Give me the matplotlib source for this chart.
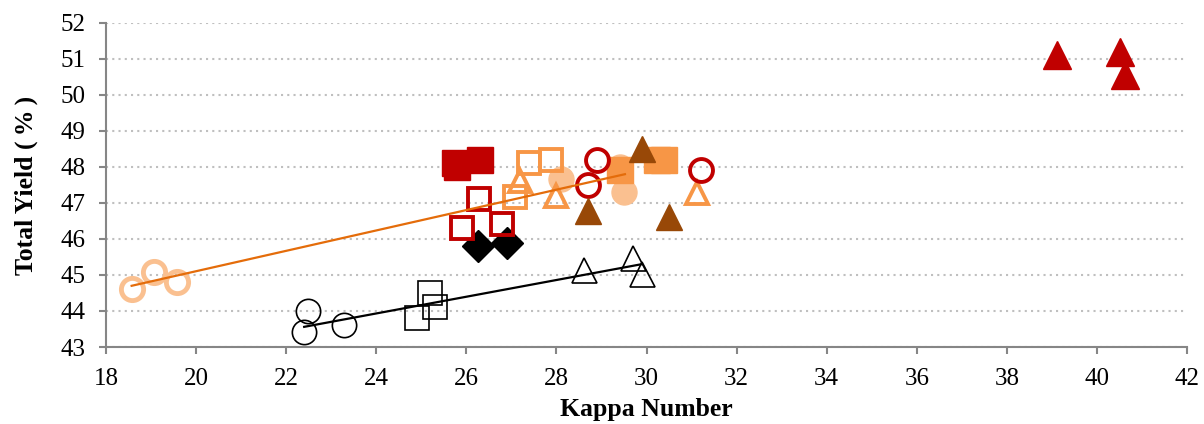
import matplotlib.pyplot as plt
import numpy as np

plt.rcParams['font.family'] = ['Liberation Serif', 'DejaVu Serif']

# kappa number / total yield (%) per series
lo_open_circ_x = [18.57, 19.07, 19.58]
lo_open_circ_y = [44.60, 45.08, 44.80]

lo_fill_circ_x = [28.10, 29.42, 29.49]
lo_fill_circ_y = [47.68, 48.00, 47.30]

blk_circ_x = [22.49, 22.40, 23.29]
blk_circ_y = [44.00, 43.42, 43.60]

blk_sq_x = [25.19, 25.30, 24.90]
blk_sq_y = [44.51, 44.10, 43.80]

blk_tri_x = [28.61, 29.69, 29.91]
blk_tri_y = [45.14, 45.46, 45.02]

blk_dia_x = [26.25, 26.90]
blk_dia_y = [45.81, 45.90]

red_fill_sq_x = [25.79, 25.74, 26.30]
red_fill_sq_y = [48.00, 48.10, 48.19]

red_open_sq_x = [26.29, 25.90, 26.80]
red_open_sq_y = [47.11, 46.30, 46.41]

org_open_sq_x = [27.40, 27.89, 27.08]
org_open_sq_y = [48.10, 48.19, 47.18]

org_open_tri_x = [27.19, 28.00, 31.11]
org_open_tri_y = [47.62, 47.20, 47.28]

org_fill_sq_x = [29.40, 30.23, 30.39]
org_fill_sq_y = [47.92, 48.19, 48.19]

red_open_circ_x = [28.91, 28.71, 31.20]
red_open_circ_y = [48.19, 47.50, 47.92]

brn_tri_x = [29.89, 28.71, 30.50]
brn_tri_y = [48.50, 46.78, 46.60]

red_tri_x = [39.12, 40.51, 40.62]
red_tri_y = [51.10, 51.20, 50.56]

# linear trend lines (end points)
trend_org_x = [18.57, 29.52]
trend_org_y = [44.70, 47.80]
trend_blk_x = [22.40, 29.89]
trend_blk_y = [43.56, 45.30]

RED = '#C00000'
ORG = '#F79646'
LORG = '#FAC090'
BRN = '#984807'

fig = plt.figure(figsize=(12.04, 4.24), dpi=100)
ax = fig.add_axes([0.088, 0.1816, 0.898, 0.7642])

ax.plot(lo_fill_circ_x, lo_fill_circ_y, 'o', ms=18, color=LORG, mec=LORG, ls='none')
ax.plot(lo_open_circ_x, lo_open_circ_y, 'o', ms=16, mfc='none', mec=LORG, mew=3.5, ls='none')
ax.plot(blk_circ_x, blk_circ_y, 'o', ms=17.5, mfc='none', mec='black', mew=1.2, ls='none')
ax.plot(blk_sq_x, blk_sq_y, 's', ms=17.5, mfc='none', mec='black', mew=1.2, ls='none')
ax.plot(blk_tri_x, blk_tri_y, '^', ms=18, mfc='none', mec='black', mew=1.2, ls='none')
ax.plot(blk_dia_x, blk_dia_y, 'D', ms=16, color='black', ls='none')
ax.plot(red_fill_sq_x, red_fill_sq_y, 's', ms=19, color=RED, ls='none')
ax.plot(red_open_sq_x, red_open_sq_y, 's', ms=16.5, mfc='none', mec=RED, mew=2.8, ls='none')
ax.plot(org_open_sq_x, org_open_sq_y, 's', ms=16.5, mfc='none', mec=ORG, mew=2.8, ls='none')
ax.plot(org_open_tri_x, org_open_tri_y, '^', ms=16.5, mfc='none', mec=ORG, mew=2.8, ls='none')
ax.plot(org_fill_sq_x, org_fill_sq_y, 's', ms=19, color=ORG, ls='none')
ax.plot(red_open_circ_x, red_open_circ_y, 'o', ms=16.5, mfc='none', mec=RED, mew=2.8, ls='none')
ax.plot(brn_tri_x, brn_tri_y, '^', ms=18.5, color=BRN, ls='none')
ax.plot(red_tri_x, red_tri_y, '^', ms=19.5, color=RED, ls='none')

ax.plot(trend_org_x, trend_org_y, color='#E46C0A', lw=1.6)
ax.plot(trend_blk_x, trend_blk_y, color='black', lw=1.6)

ax.set_xlim(18, 42)
ax.set_ylim(43, 52)
ax.set_xticks(np.arange(18, 43, 2))
ax.set_yticks(np.arange(43, 53, 1))
ax.grid(axis='y', color='#BFBFBF', ls=(0, (1, 2)), lw=1.5)
ax.set_axisbelow(True)

for s in ['top', 'right']:
    ax.spines[s].set_visible(False)
for s in ['left', 'bottom']:
    ax.spines[s].set_color('#868686')
    ax.spines[s].set_linewidth(1.5)
ax.tick_params(direction='out', length=5, width=1.5, color='#868686',
               labelsize=18, pad=10)

ax.set_xlabel('Kappa Number', fontsize=18.5, fontweight='bold', labelpad=6)
ax.set_ylabel('Total Yield (\u2009%\u2009)', fontsize=18.5, fontweight='bold', labelpad=16)

fig.savefig('out.png', dpi=100)
